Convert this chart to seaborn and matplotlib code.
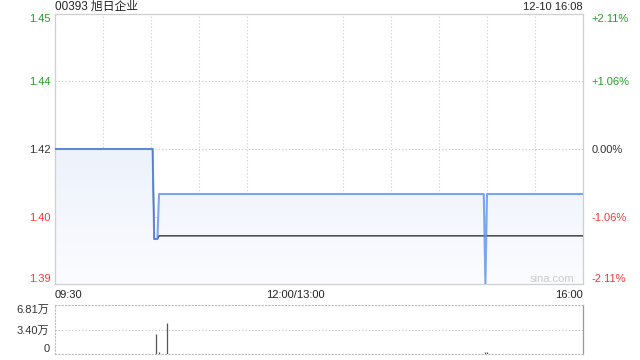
import numpy as np
import pandas as pd
import matplotlib
matplotlib.use("Agg")
import matplotlib.pyplot as plt
from matplotlib.ticker import MultipleLocator
from matplotlib.colors import LinearSegmentedColormap
import seaborn as sns

# ---------------- data ----------------
title = "00393 旭日企业"
stamp = "12-10 16:08"
prev_close = 1.42
price_low = 1.39
price_high = 1.45

price_times = ["09:30", "10:31", "10:32", "10:34", "10:35", "14:58", "14:59", "15:00", "16:00"]
price_vals = [1.42, 1.42, 1.40, 1.40, 1.41, 1.41, 1.39, 1.41, 1.41]

avg_times = ["09:30", "10:31", "10:32", "10:34", "10:35", "16:00"]
avg_vals = [1.42, 1.42, 1.40, 1.40, 1.4007, 1.4007]

vol_times = ["10:33", "10:35", "10:40", "14:59", "15:00"]
vol_vals = [2.78, 0.28, 4.31, 0.25, 0.25]  # 万

price_labels = ["1.39", "1.40", "1.42", "1.44", "1.45"]
pct_labels = ["-2.11%", "-1.06%", "0.00%", "+1.06%", "+2.11%"]
label_colors = ["#f03a3a", "#f03a3a", "#333333", "#22a022", "#22a022"]
vol_max = 6.81
vol_labels = ["0", "3.40万", "6.81万"]
x_labels = ["09:30", "12:00/13:00", "16:00"]


def tpos(t):
    h, m = map(int, t.split(":"))
    mins = h * 60 + m
    if mins <= 12 * 60:
        return mins - (9 * 60 + 30)
    return mins - 13 * 60 + 150


# ---------------- style ----------------
sns.set_theme(style="white")
plt.rcParams["font.family"] = ["Liberation Sans", "Noto Sans CJK SC", "DejaVu Sans"]

fig = plt.figure(figsize=(6.4, 3.6), dpi=100)
ax = fig.add_axes([55 / 640, 1 - 284 / 360, 528 / 640, 270 / 360])
axv = fig.add_axes([55 / 640, 1 - 354 / 360, 528 / 640, 49 / 360])

price_df = pd.DataFrame({"x": [tpos(t) for t in price_times], "price": price_vals})
avg_df = pd.DataFrame({"x": [tpos(t) for t in avg_times], "avg": avg_vals})

# gradient fill under price line
poly = ax.fill_between(price_df["x"], price_df["price"], price_low,
                       facecolor="none", edgecolor="none")
cmap = LinearSegmentedColormap.from_list("g", ["#fbfcff", "#dfe8f8"])
grad = np.linspace(0, 1, 256).reshape(-1, 1)
im = ax.imshow(grad, extent=[0, 330, price_low, price_high], aspect="auto",
               origin="lower", cmap=cmap, zorder=1)
im.set_clip_path(poly.get_paths()[0], transform=ax.transData)

sns.lineplot(data=avg_df, x="x", y="avg", ax=ax, color="#333333", linewidth=1.0, zorder=3)
sns.lineplot(data=price_df, x="x", y="price", ax=ax, color="#5a90ee", linewidth=1.5,
             alpha=0.8, zorder=4)

ax.set_xlim(0, 330)
ax.set_ylim(price_low, price_high)
yt = np.linspace(price_low, price_high, 5)
ax.set_yticks(yt)
ax.set_yticklabels(price_labels)
for lab, c in zip(ax.get_yticklabels(), label_colors):
    lab.set_color(c)
ytl = ax.get_yticklabels()
ytl[0].set_verticalalignment("bottom")
ytl[-1].set_verticalalignment("top")
ax.tick_params(axis="y", length=0, pad=3, labelsize=8)

ax2 = ax.twinx()
ax2.set_ylim(price_low, price_high)
ax2.set_yticks(yt)
ax2.set_yticklabels(pct_labels)
for lab, c in zip(ax2.get_yticklabels(), label_colors):
    lab.set_color(c)
r = ax2.get_yticklabels()
r[0].set_verticalalignment("bottom")
r[-1].set_verticalalignment("top")
ax2.tick_params(axis="y", length=0, pad=6, labelsize=8)
for s in ax2.spines.values():
    s.set_visible(False)

ax.set_xticks([0, 150, 330])
ax.set_xticklabels(x_labels)
xtl = ax.get_xticklabels()
xtl[0].set_horizontalalignment("left")
xtl[2].set_horizontalalignment("right")
ax.tick_params(axis="x", length=0, pad=4, labelsize=8, colors="#222222")
ax.xaxis.set_minor_locator(MultipleLocator(30))
ax.tick_params(axis="x", which="minor", length=0)
ax.grid(True, which="minor", axis="x", color="#cccccc", linestyle=(0, (1, 2)), linewidth=0.8)
ax.grid(True, which="major", axis="y", color="#c4c4c4", linestyle=(0, (1, 2)), linewidth=0.8)
ax.grid(False, which="major", axis="x")
ax.set_xlabel("")
ax.set_ylabel("")
for s in ax.spines.values():
    s.set_color("#cfcfcf")
    s.set_linewidth(0.9)
ax.set_axisbelow(True)

# ---------------- volume ----------------
vx = [tpos(t) for t in vol_times]
axv.vlines(vx, 0, vol_vals, color="#555555", linewidth=0.9)
axv.set_xlim(0, 330)
axv.set_ylim(0, vol_max)
axv.set_xticks([])
axv.set_yticks([0, vol_max / 2, vol_max])
axv.set_yticklabels(vol_labels)
vl = axv.get_yticklabels()
vl[0].set_verticalalignment("bottom")
vl[-1].set_verticalalignment("top")
axv.tick_params(axis="y", length=0, pad=4, labelsize=8, colors="#333333")
axv.grid(True, axis="y", color="#c4c4c4", linestyle=(0, (1, 2)), linewidth=0.8)
for k in ["top", "bottom", "left"]:
    axv.spines[k].set_color("#bbbbbb")
    axv.spines[k].set_linestyle((0, (1, 2)))
    axv.spines[k].set_linewidth(0.8)
axv.spines["right"].set_color("#999999")
axv.spines["right"].set_linewidth(0.9)

# ---------------- texts ----------------
fig.text(55 / 640, 1 - 7 / 360, title, ha="left", va="center", fontsize=8.5, color="#222222")
fig.text(583 / 640, 1 - 7 / 360, stamp, ha="right", va="center", fontsize=8, color="#222222")
fig.text(552 / 640, 1 - 279 / 360, "sina.com", ha="center", va="center", fontsize=8, color="#cccccc")

fig.savefig("out.png", dpi=100)
